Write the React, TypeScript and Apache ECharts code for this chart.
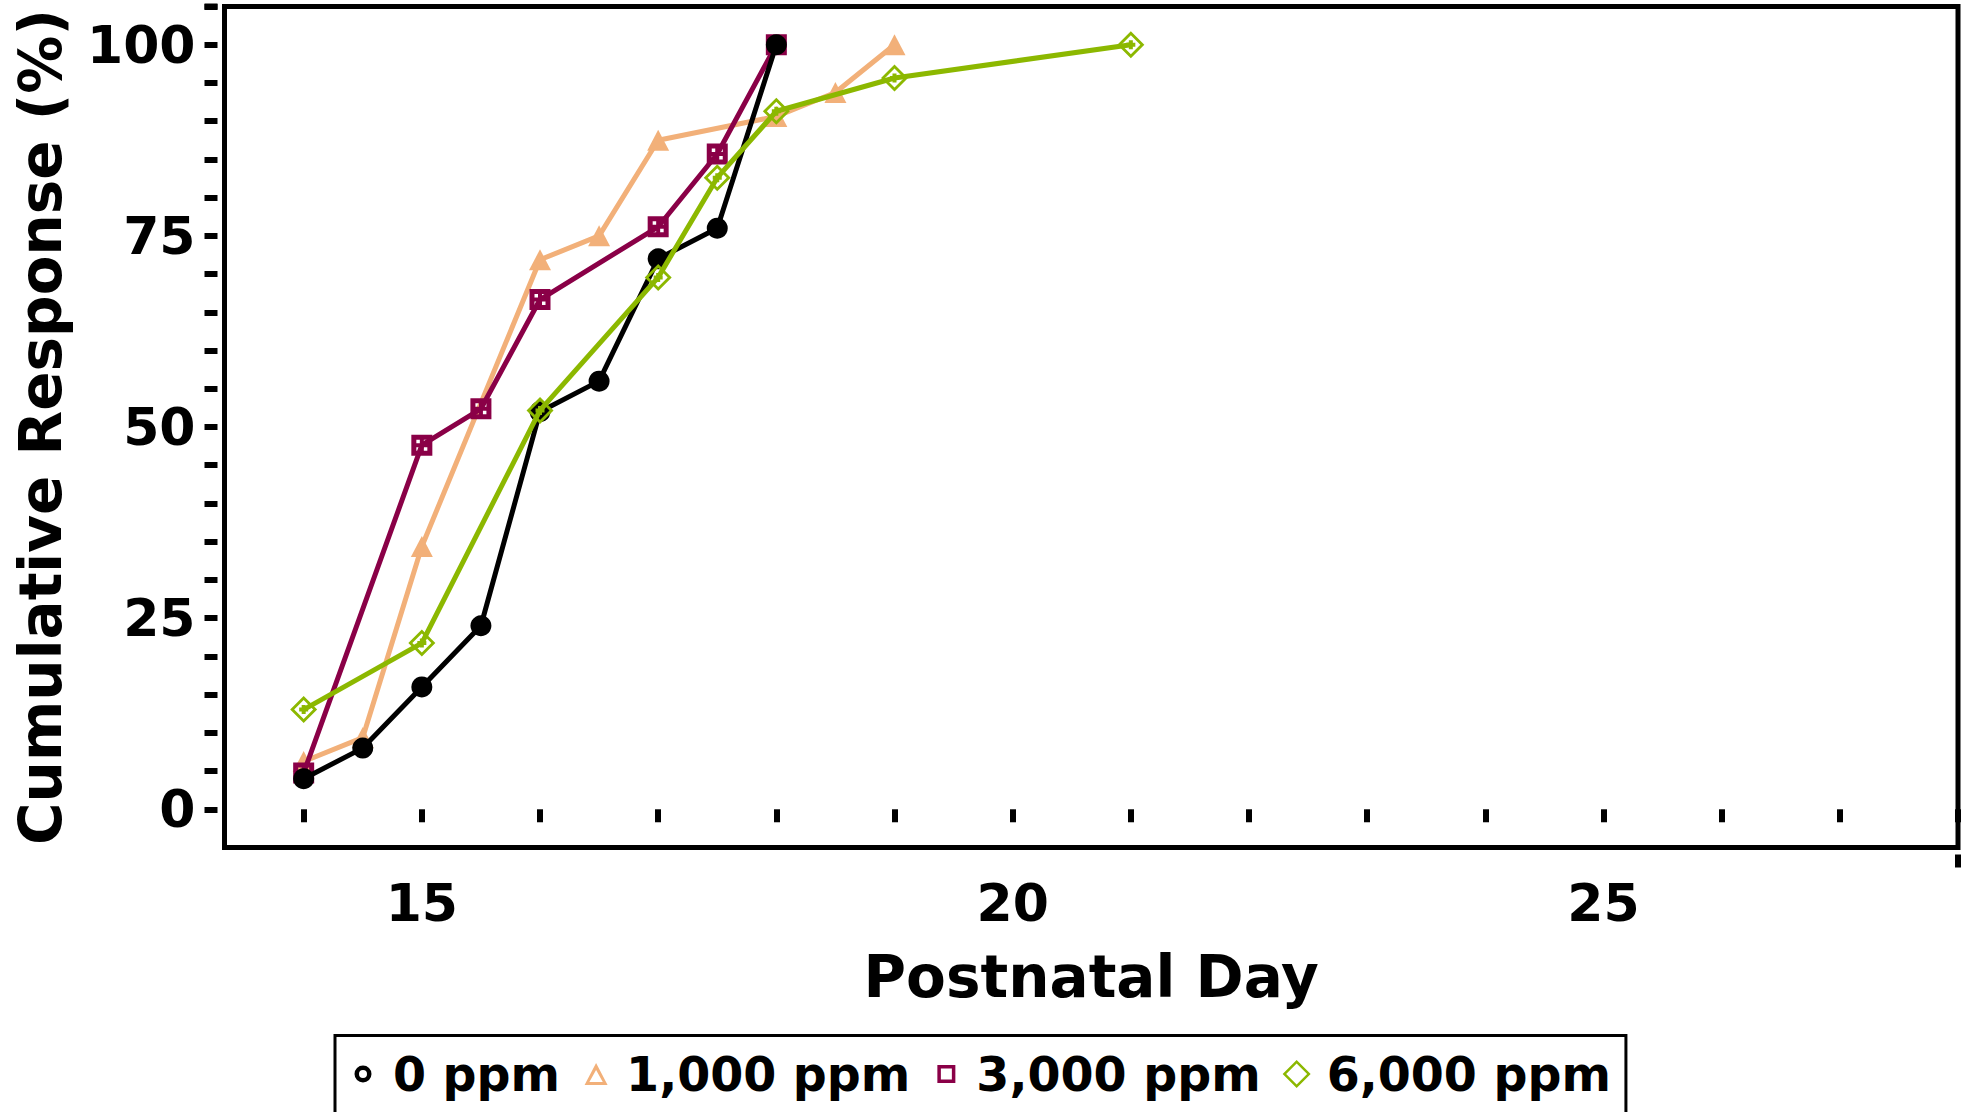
import React, { useEffect, useRef } from "react";
import * as echarts from "echarts";

// ---- data ----
const seriesNames = ["0 ppm", "1,000 ppm", "3,000 ppm", "6,000 ppm"];
const days0 = [14, 14.5, 15, 15.5, 16, 16.5, 17, 17.5, 18];
const resp0 = [4, 8, 16, 24, 52, 56, 72, 76, 100];
const days1000 = [14, 14.5, 15, 16, 16.5, 17, 18, 18.5, 19];
const resp1000 = [6.25, 9.375, 34.375, 71.875, 75, 87.5, 90.625, 93.75, 100];
const days3000 = [14, 15, 15.5, 16, 17, 17.5, 18];
const resp3000 = [4.76, 47.62, 52.38, 66.67, 76.19, 85.71, 100];
const days6000 = [14, 15, 16, 17, 17.5, 18, 19, 21];
const resp6000 = [13.04, 21.74, 52.17, 69.57, 82.61, 91.3, 95.65, 100];

// axis ranges / ticks
const xMin = 13.33;
const xMax = 28;
const xTickFirst = 14;
const xTickStep = 1;
const xLabels = [15, 20, 25];
const yMin = -5;
const yMax = 105;
const yTickFirst = 0;
const yTickStep = 5;
const yLabels = [0, 25, 50, 75, 100];

const colors = ["#000000", "#F2B079", "#8A0047", "#8CB800"];

const FONT = "DejaVu Sans";

// plot markers
const squareSym =
  "path://M0 0H21V21H0Z M5 5V8.5H8.5V5Z M12.5 5V8.5H16V5Z M5 12.5V16H8.5V12.5Z M12.5 12.5V16H16V12.5Z";
const diamondSym =
  "path://M13.5 0L27 13.5L13.5 27L0 13.5Z M13.5 4L4 13.5L13.5 23L23 13.5Z M9 11.5H18V15.5H9Z M11.5 9H15.5V18H11.5Z";

// legend icons (hollow outlines in a 29x29 box)
const PAD = " M0 0Z M29 29Z";
const legCircle =
  "path://M14.5 6A8.5 8.5 0 1 1 14.5 23A8.5 8.5 0 1 1 14.5 6Z M14.5 10.5A4 4 0 1 0 14.5 18.5A4 4 0 1 0 14.5 10.5Z" + PAD;
const legTriangle = "path://M14.5 3.5L26 25.5L3 25.5Z M14.5 10.5L7.8 22.5L21.2 22.5Z" + PAD;
const legSquare = "path://M5.5 5.5H23.5V23.5H5.5Z M9 9V20H20V9Z" + PAD;
const legDiamond = "path://M14.5 0.5L28.5 14.5L14.5 28.5L0.5 14.5Z M14.5 4L4 14.5L14.5 25L25 14.5Z" + PAD;

function pairs(xs: number[], ys: number[]) {
  return xs.map((x, i) => [x, ys[i]]);
}

// plot frame geometry (pixels)
const W = 1969;
const H = 1112;
const FRAME_L = 224.5;
const FRAME_T = 6.5;
const FRAME_R = 1958;
const FRAME_B = 847.5;
const TICK_OFF = 7;
const TICK_LEN = 13;
const TICK_W = 6;

export default function App() {
  const ref = useRef<HTMLDivElement>(null);
  useEffect(() => {
    if (!ref.current) return;
    const chart = echarts.init(ref.current, null, { renderer: "svg" });
    const mk = (i: number, data: number[][], symbol: string, size: any, z: number) => ({
      name: seriesNames[i],
      type: "line",
      data,
      symbol,
      symbolSize: size,
      z,
      xAxisIndex: 0,
      yAxisIndex: 0,
      lineStyle: { color: colors[i], width: 5 },
      itemStyle: { color: colors[i] },
      emphasis: { disabled: true },
    });
    // tick grid: spans the first tick to one step past the last one, so that the
    // axes' own ticks land on the main scale
    const pxX = (FRAME_R - FRAME_L) / (xMax - xMin);
    const pxY = (FRAME_B - FRAME_T) / (yMax - yMin);
    const tickGridL = FRAME_L + (xTickFirst - xMin) * pxX;
    const tickGridB = FRAME_B - (yTickFirst - yMin) * pxY;
    const tickGridR = FRAME_R + xTickStep * pxX;
    const tickGridT = FRAME_T - yTickStep * pxY;
    const tickStyle = { show: true, length: TICK_LEN, lineStyle: { width: TICK_W, color: "#000" } };
    chart.setOption({
      animation: false,
      backgroundColor: "#ffffff",
      grid: [
        {
          left: FRAME_L,
          right: W - FRAME_R,
          top: FRAME_T,
          bottom: H - FRAME_B,
          outerBoundsMode: "none",
          containLabel: false,
          show: true,
          borderColor: "#000",
          borderWidth: 5,
          backgroundColor: "transparent",
        },
        {
          left: tickGridL,
          right: W - tickGridR,
          top: tickGridT,
          bottom: H - tickGridB,
          outerBoundsMode: "none",
          containLabel: false,
          show: false,
        },
      ],
      xAxis: [
        {
          type: "value",
          gridIndex: 0,
          min: xMin,
          max: xMax,
          offset: TICK_OFF,
          name: "Postnatal Day",
          nameLocation: "middle",
          nameGap: 93,
          nameTextStyle: { fontSize: 58, fontWeight: "bold", color: "#000", fontFamily: FONT },
          axisLine: { show: false },
          axisTick: { show: false },
          axisLabel: {
            customValues: xLabels,
            fontSize: 52,
            fontWeight: "bold",
            color: "#000",
            margin: 22,
            fontFamily: FONT,
          },
          splitLine: { show: false },
        },
        {
          type: "value",
          gridIndex: 1,
          min: xTickFirst,
          max: xMax + xTickStep,
          interval: xTickStep,
          offset: FRAME_B + TICK_OFF - tickGridB,
          axisLine: { show: false },
          axisTick: tickStyle,
          axisLabel: { show: false },
          splitLine: { show: false },
        },
      ],
      yAxis: [
        {
          type: "value",
          gridIndex: 0,
          min: yMin,
          max: yMax,
          offset: TICK_OFF,
          name: "Cumulative Response (%)",
          nameLocation: "middle",
          nameGap: 148,
          nameTextStyle: { fontSize: 58, fontWeight: "bold", color: "#000", fontFamily: FONT },
          axisLine: { show: false },
          axisTick: { show: false },
          axisLabel: {
            customValues: yLabels,
            fontSize: 52,
            fontWeight: "bold",
            color: "#000",
            margin: 22,
            fontFamily: FONT,
          },
          splitLine: { show: false },
        },
        {
          type: "value",
          gridIndex: 1,
          min: yTickFirst,
          max: yMax + yTickStep,
          interval: yTickStep,
          offset: tickGridL - (FRAME_L - TICK_OFF),
          axisLine: { show: false },
          axisTick: tickStyle,
          axisLabel: { show: false },
          splitLine: { show: false },
        },
      ],
      legend: {
        data: [
          { name: seriesNames[0], icon: legCircle },
          { name: seriesNames[1], icon: legTriangle },
          { name: seriesNames[2], icon: legSquare },
          { name: seriesNames[3], icon: legDiamond },
        ],
        orient: "horizontal",
        left: 335,
        top: 1035.5,
        itemWidth: 29,
        itemHeight: 29,
        itemGap: 21.5,
        padding: [14.5, 15, 40, 13.5],
        borderColor: "#000",
        borderWidth: 3,
        selectedMode: false,
        itemStyle: { borderWidth: 0 },
        textStyle: {
          fontSize: 47.5,
          fontWeight: "bold",
          color: "#000",
          fontFamily: FONT,
          padding: [0, 0, 0, 10.5],
        },
      },
      series: [
        mk(1, pairs(days1000, resp1000), "triangle", [22, 21], 2),
        mk(2, pairs(days3000, resp3000), squareSym, 21, 3),
        mk(0, pairs(days0, resp0), "circle", 21, 4),
        mk(3, pairs(days6000, resp6000), diamondSym, 27, 5),
      ],
    });

    // the closing ticks at the ends of both axes, placed through the main scale
    try {
      const pEnd = chart.convertToPixel({ gridIndex: 0 } as any, [xMax, yMax]) as any;
      if (pEnd && isFinite(pEnd[0]) && isFinite(pEnd[1])) {
        const xb = FRAME_B + TICK_OFF;
        const yl = FRAME_L - TICK_OFF;
        chart.setOption({
          graphic: [
            {
              type: "line",
              silent: true,
              shape: { x1: pEnd[0], y1: xb, x2: pEnd[0], y2: xb + TICK_LEN },
              style: { stroke: "#000", lineWidth: TICK_W },
            },
            {
              type: "line",
              silent: true,
              shape: { x1: yl, y1: pEnd[1], x2: yl - TICK_LEN, y2: pEnd[1] },
              style: { stroke: "#000", lineWidth: TICK_W },
            },
          ],
        });
      }
    } catch (e) {
      // ignore
    }
    return () => chart.dispose();
  }, []);
  return (
    <div
      ref={ref}
      style={{ position: "fixed", left: 0, top: 0, width: W, height: H, background: "#fff" }}
    />
  );
}
